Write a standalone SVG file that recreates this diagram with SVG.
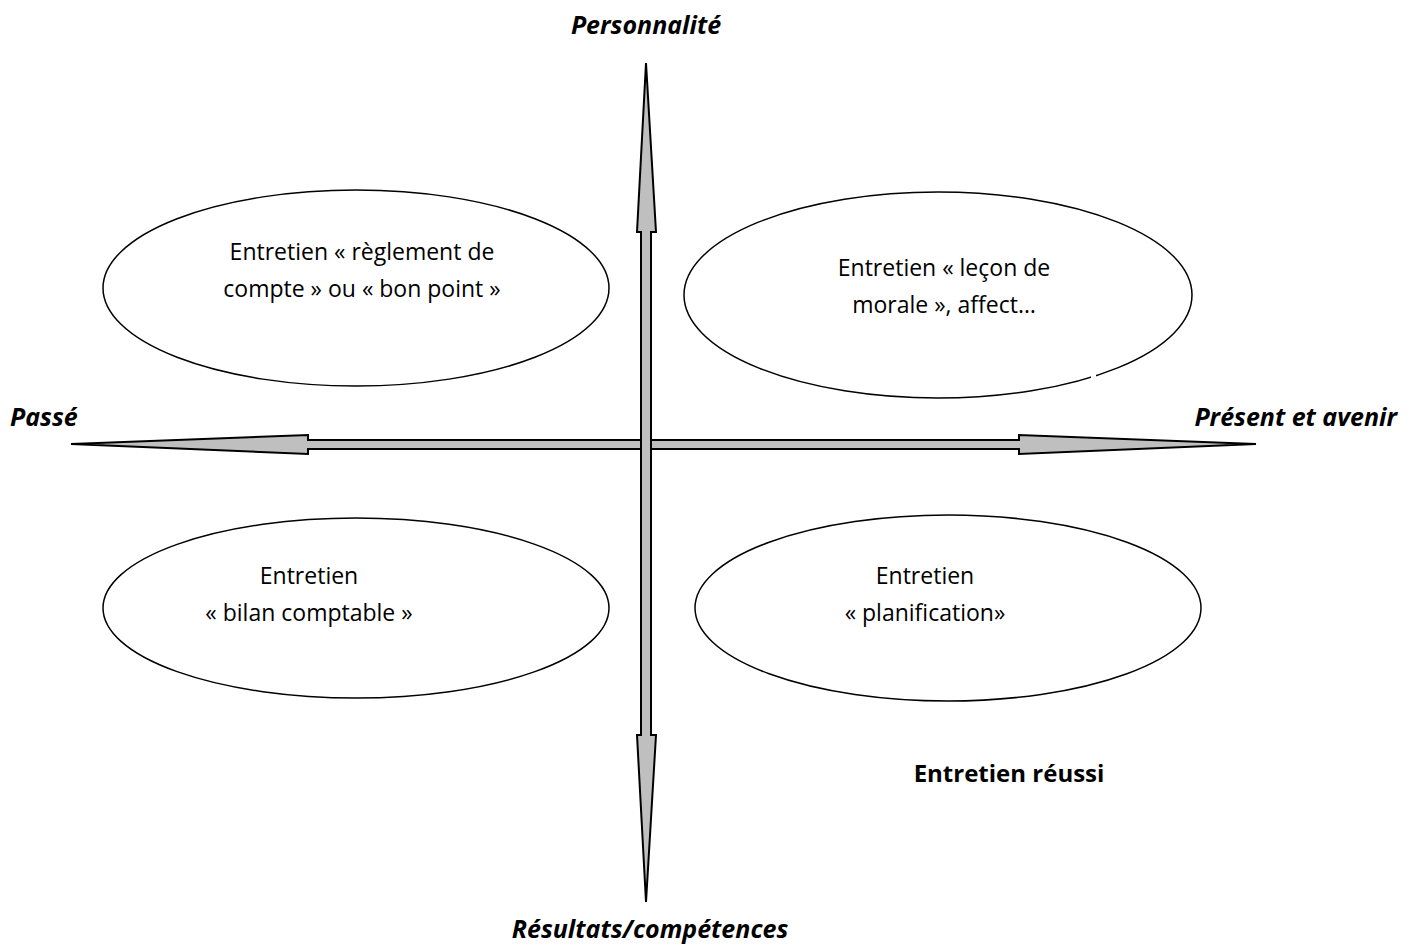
<svg xmlns="http://www.w3.org/2000/svg" width="1413" height="945" viewBox="0 0 1413 945">
<style>
.ell{fill:#fff;stroke:#000;stroke-width:1.5}
.arr{fill:#bfbfbf;stroke:#000;stroke-width:2;stroke-linejoin:miter}
.t{font-family:"Open Sans","Liberation Sans",sans-serif;font-size:23px;fill:#000;text-anchor:middle}
.ax{font-family:"Open Sans","Liberation Sans",sans-serif;font-size:25px;font-weight:bold;font-style:italic;fill:#000}
.b{font-family:"Open Sans","Liberation Sans",sans-serif;font-size:24px;font-weight:bold;fill:#000}
</style>
<rect width="1413" height="945" fill="#fff"/>
<g id="n1"><ellipse class="ell" cx="356" cy="288" rx="253" ry="98"/>
<text class="t" x="362" y="260">Entretien « règlement de</text>
<text class="t" x="362" y="297">compte » ou « bon point »</text></g>
<g id="n2"><ellipse class="ell" cx="938" cy="295" rx="254" ry="103"/>
<rect x="1091" y="372" width="5" height="8" fill="#fff"/>
<text class="t" x="944" y="276">Entretien « leçon de</text>
<text class="t" x="944" y="313">morale », affect…</text></g>
<g id="n3"><ellipse class="ell" cx="356" cy="608" rx="253" ry="90"/>
<text class="t" x="309" y="584">Entretien</text>
<text class="t" x="309" y="621">« bilan comptable »</text></g>
<g id="n4"><ellipse class="ell" cx="948" cy="608" rx="253" ry="93"/>
<text class="t" x="925" y="584">Entretien</text>
<text class="t" x="925" y="621">« planification»</text></g>
<g id="connectors">
<polygon class="arr" points="71,444 308,435 308,440 1019,440 1019,435 1256,444 1019,454 1019,449 308,449 308,454"/>
<polygon class="arr" points="646,63 656,232 651,232 651,735 656,735 646,902 637,735 641,735 641,232 637,232"/>
</g>
<g id="labels">
<text class="ax" x="646" y="34" text-anchor="middle">Personnalité</text>
<text class="ax" x="10" y="426">Passé</text>
<text class="ax" x="1397" y="426" text-anchor="end">Présent et avenir</text>
<text class="ax" x="650" y="938" text-anchor="middle">Résultats/compétences</text>
<text class="b" x="1009" y="782" text-anchor="middle">Entretien réussi</text>
</g>
</svg>
